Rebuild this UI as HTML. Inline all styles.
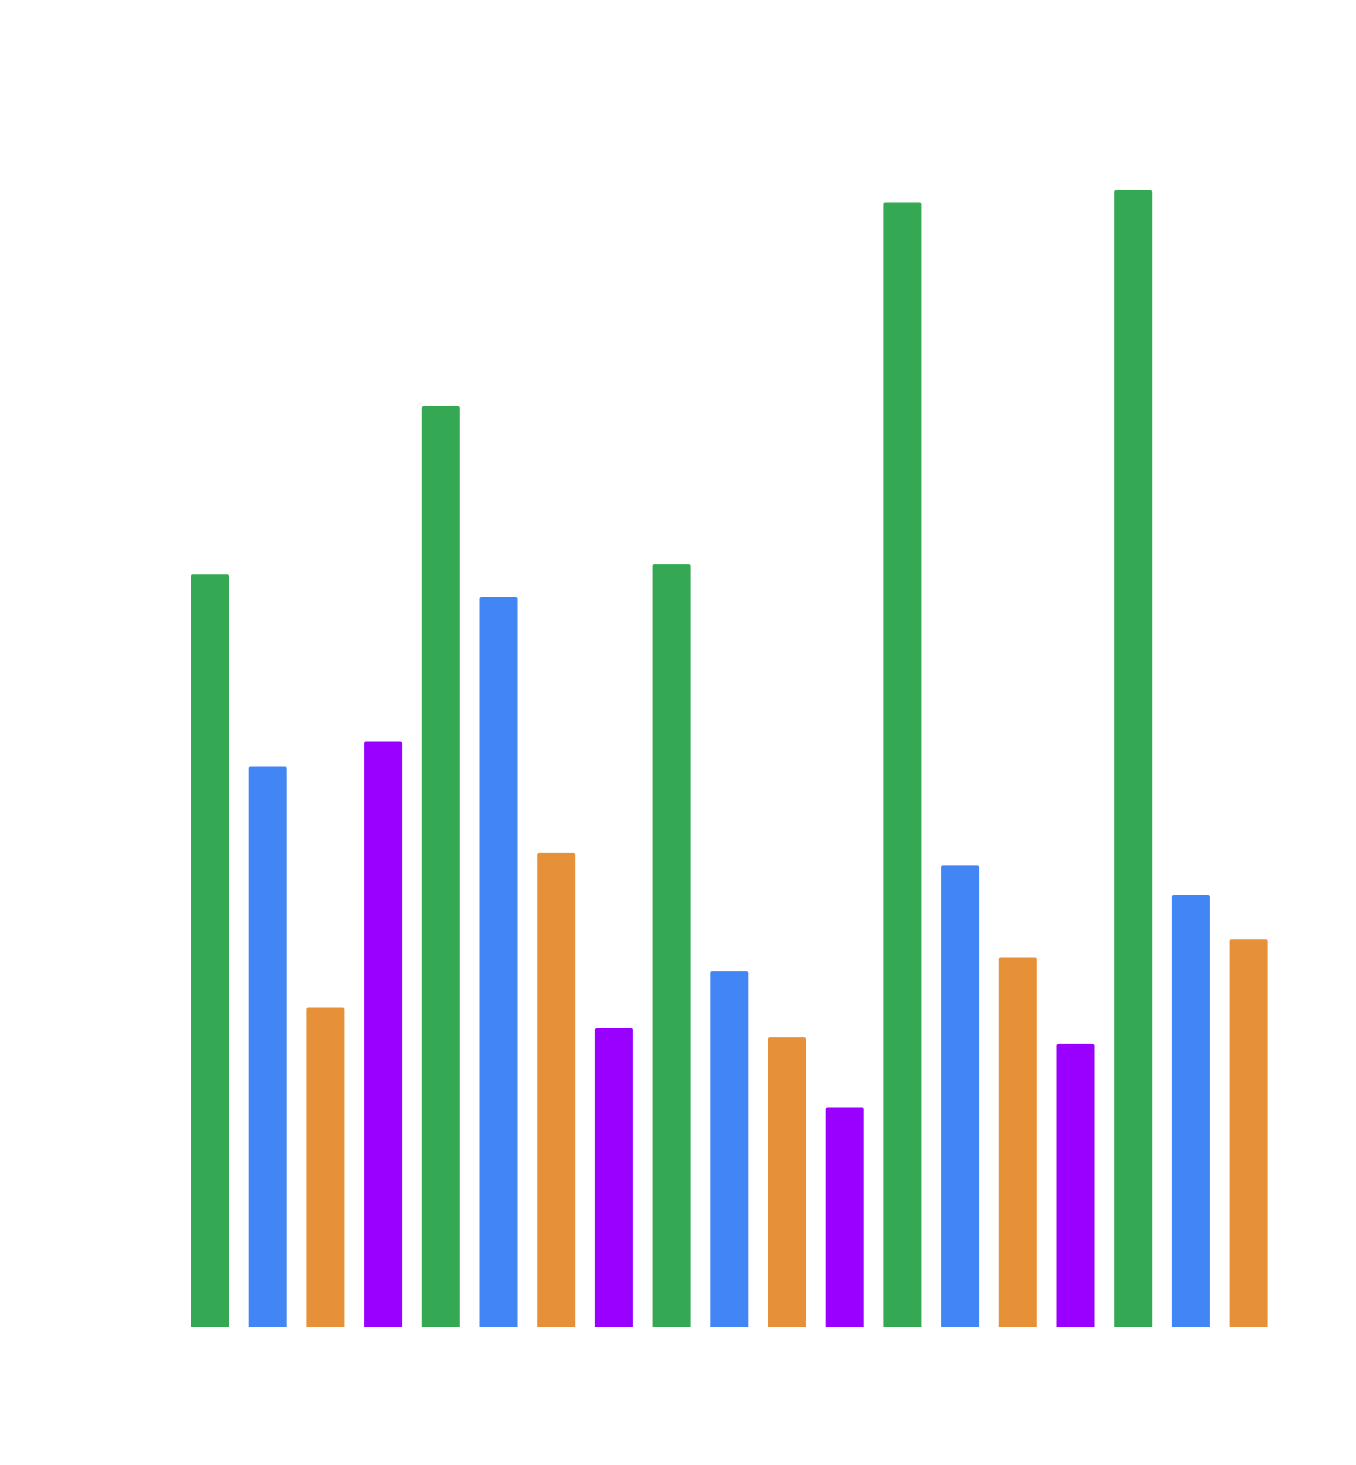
<!DOCTYPE html>
<html>
<head>
<meta charset="utf-8">
<style>
  html, body { margin: 0; padding: 0; background: #ffffff; }
  svg { display: block; }
</style>
</head>
<body>
<svg id="chart" width="1356" height="1465" xmlns="http://www.w3.org/2000/svg">
  <rect x="0" y="0" width="1356" height="1465" fill="#ffffff"></rect>
  <g id="bars"></g>
</svg>
<script>
const categories = ["b1","b2","b3","b4","b5","b6","b7","b8","b9","b10","b11","b12","b13","b14","b15","b16","b17","b18","b19"];
const seriesKeys = ["green","blue","orange","purple","green","blue","orange","purple","green","blue","orange","purple","green","blue","orange","purple","green","blue","orange"];
const values = [662, 493, 281, 515, 810, 642, 417, 263, 671, 313, 255, 193, 989, 406, 325, 249, 1000, 380, 341];

const colors = { green: "#34a853", blue: "#4285f4", orange: "#e69138", purple: "#9900ff" };
const plotLeft = 191, step = 57.7, barW = 38;
const yBottom = 1327, yTop = 190, yMax = 1000;
function xScale(i) { return plotLeft + i * step; }
function yScale(v) { return yBottom - (v / yMax) * (yBottom - yTop); }

const g = document.getElementById("bars");
const NS = "http://www.w3.org/2000/svg";
values.forEach(function (v, i) {
  const y = yScale(v);
  const x = xScale(i);
  const h = yBottom - y;
  const r = 2;
  const p = document.createElementNS(NS, "path");
  p.setAttribute("d", "M" + x + "," + yBottom + " V" + (y + r) + " Q" + x + "," + y + " " + (x + r) + "," + y +
    " H" + (x + barW - r) + " Q" + (x + barW) + "," + y + " " + (x + barW) + "," + (y + r) + " V" + yBottom + " Z");
  p.setAttribute("fill", colors[seriesKeys[i]]);
  
  
  g.appendChild(p);
});
</script>
</body>
</html>
